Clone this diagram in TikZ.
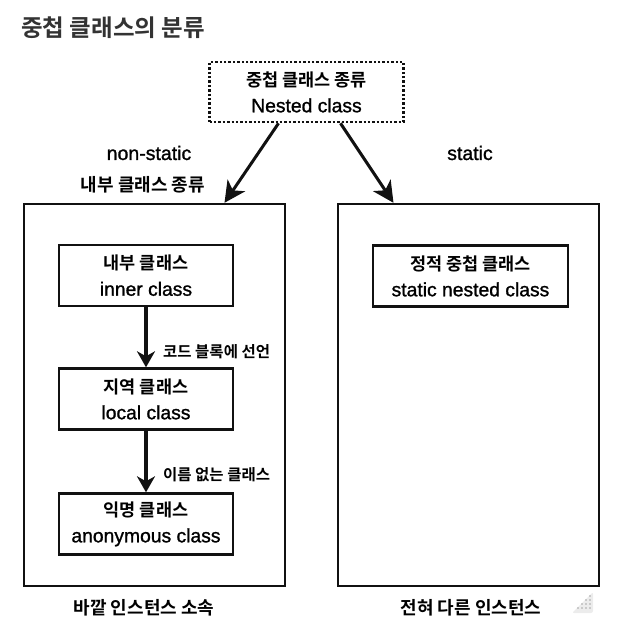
\documentclass[tikz,border=0pt]{standalone}
\usepackage{fontspec}
\setmainfont{Liberation Sans}[FakeBold=1.2]
\newfontfamily\kr{Noto Sans CJK KR Bold}
\newfontfamily\lat{Liberation Sans}[FakeBold=1.2]
\usetikzlibrary{arrows.meta}
\definecolor{ink}{HTML}{111111}
\definecolor{titlegray}{HTML}{333333}
\newcommand{\two}[2]{{\kr\fontsize{17.5}{26}\selectfont #1}\\{\lat\fontsize{19.3}{26}\selectfont #2}}
\begin{document}
\begin{tikzpicture}[x=1pt,y=-1pt,
  bigbox/.style={draw=ink, line width=2.4pt, minimum width=261pt, minimum height=382pt, inner sep=0pt},
  classbox/.style={draw=ink, line width=2.4pt, minimum height=61pt, inner sep=0pt, align=center, font=\fontsize{17}{26}\selectfont},
  topbox/.style={draw=ink, line width=2.6pt, dash pattern=on 2.4pt off 2pt, minimum width=194pt, minimum height=60pt, inner sep=0pt, align=center, font=\fontsize{17}{26}\selectfont},
  latlbl/.style={font=\lat\fontsize{19.5}{22}\selectfont, inner sep=0pt},
  krlbl/.style={font=\kr\fontsize{18}{22}\selectfont, inner sep=0pt},
  small/.style={font=\kr\fontsize{15.5}{18}\selectfont, inner sep=0pt, anchor=west},
  bigarrow/.style={draw=ink, line width=3pt, -{Stealth[length=21pt, width=21pt, inset=6pt]}},
  downarrow/.style={draw=ink, line width=4pt, -{Stealth[length=16pt, width=18pt, inset=5pt]}}
]
\useasboundingbox (0,0) rectangle (620,633);

\node[anchor=west, inner sep=0pt, text=titlegray, font=\kr\fontsize{23.5}{27}\selectfont] (title) at (21,28) {중첩 클래스의 분류};

\node[topbox] (top) at (306.5,92) {\two{중첩 클래스 종류}{Nested class}};

\node[bigbox] (left) at (154.5,395) {};
\node[bigbox] (right) at (468.5,395) {};

\node[latlbl] (ns) at (149,153) {non-static};
\node[latlbl] (st) at (470,153) {static};
\node[krlbl] (nk) at (143,185) {내부 클래스 종류};

\draw[bigarrow] ([xshift=-28pt]top.south) -- ([xshift=70pt]left.north);
\draw[bigarrow] ([xshift=34pt]top.south) -- ([xshift=-75pt]right.north);

\node[classbox, minimum width=174pt] (inner) at (146,275.5) {\two{내부 클래스}{inner class}};
\node[classbox, minimum width=174pt] (local) at (146,399) {\two{지역 클래스}{local class}};
\node[classbox, minimum width=174pt] (anon) at (146,524) {\two{익명 클래스}{anonymous class}};
\node[classbox, minimum width=195pt] (stat) at (470.5,276) {\two{정적 중첩 클래스}{static nested class}};

\draw[downarrow] (inner.south) -- (local.north);
\draw[downarrow] (local.south) -- (anon.north);

\node[small] (l1) at (163,352) {코드 블록에 선언};
\node[small] (l2) at (163,475) {이름 없는 클래스};

\node[krlbl] (b1) at (144,608) {바깥 인스턴스 소속};
\node[krlbl] (b2) at (471,608) {전혀 다른 인스턴스};

% resize grip
\fill[gray!15, rounded corners=2pt] (593,592) -- (593,613) -- (572,613) -- cycle;
\foreach \i/\j in {590/596, 590/600, 586/600, 590/604, 586/604, 582/604, 590/608, 586/608, 582/608, 578/608}
  \fill[gray!70] (\i,\j) circle (0.9pt);
\end{tikzpicture}
\end{document}
